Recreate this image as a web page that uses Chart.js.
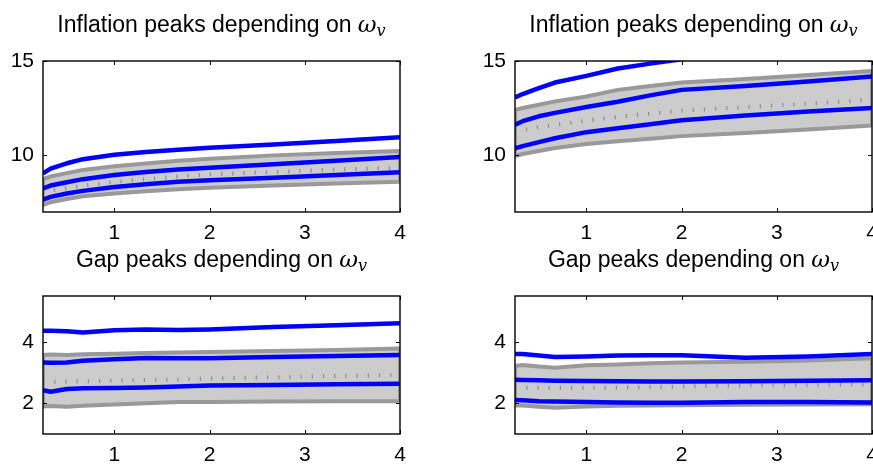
<!DOCTYPE html>
<html>
<head>
<meta charset="utf-8">
<script src="https://cdn.jsdelivr.net/npm/chart.js@4"></script>
<style>
  html, body { margin:0; padding:0; background:#fff; width:873px; height:465px; overflow:hidden; }
  canvas { position:absolute; }
</style>
</head>
<body>
<canvas id="c1" width="440" height="240" style="left:0px;top:0px;"></canvas>
<canvas id="c2" width="440" height="240" style="left:472px;top:0px;"></canvas>
<canvas id="c3" width="440" height="225" style="left:0px;top:240px;"></canvas>
<canvas id="c4" width="440" height="225" style="left:472px;top:240px;"></canvas>
<script>
// ---------- data ----------
const xVals = [0.25, 0.33, 0.5, 0.67, 1, 1.33, 1.67, 2, 2.67, 3.33, 4];
const xTicks = [1, 2, 3, 4];
const yTicksInfl = [10, 15];
const yTicksGap = [2, 4];
const titleInfl = "Inflation peaks depending on ";
const titleGap = "Gap peaks depending on ";
const titleSym = "ω";
const titleSub = "v";

// top-left
const inflA_blueHigh = [9.05, 9.3, 9.58, 9.8, 10.03, 10.18, 10.3, 10.4, 10.58, 10.76, 10.96];
const inflA_blueMid  = [8.25, 8.4, 8.58, 8.74, 8.96, 9.12, 9.25, 9.35, 9.53, 9.72, 9.91];
const inflA_blueLow  = [7.65, 7.8, 7.98, 8.12, 8.33, 8.47, 8.6, 8.68, 8.82, 8.96, 9.1];
const inflA_bandHigh = [8.74, 8.88, 9.06, 9.23, 9.42, 9.57, 9.71, 9.82, 10.0, 10.12, 10.23];
const inflA_bandLow  = [7.37, 7.52, 7.69, 7.83, 7.98, 8.1, 8.21, 8.28, 8.4, 8.51, 8.6];
const inflA_median   = [8.03, 8.14, 8.28, 8.39, 8.6, 8.74, 8.88, 9.0, 9.12, 9.25, 9.35];
// top-right
const inflB_blueHigh = [13.07, 13.25, 13.56, 13.86, 14.21, 14.6, 14.86, 15.09, 15.45, 15.8, 16.1];
const inflB_blueMid  = [11.63, 11.81, 12.07, 12.25, 12.56, 12.84, 13.18, 13.47, 13.68, 13.91, 14.18];
const inflB_blueLow  = [10.37, 10.49, 10.7, 10.91, 11.23, 11.44, 11.65, 11.86, 12.11, 12.33, 12.51];
const inflB_bandHigh = [12.42, 12.51, 12.68, 12.86, 13.12, 13.47, 13.68, 13.86, 14.05, 14.26, 14.47];
const inflB_bandLow  = [9.96, 10.07, 10.23, 10.39, 10.6, 10.75, 10.88, 11.02, 11.19, 11.37, 11.58];
const inflB_median   = [11.23, 11.33, 11.51, 11.61, 11.84, 12.04, 12.21, 12.37, 12.56, 12.74, 12.95];
// bottom-left
const gapA_blueHigh = [4.37, 4.37, 4.35, 4.31, 4.38, 4.41, 4.39, 4.41, 4.49, 4.55, 4.61];
const gapA_blueMid  = [3.33, 3.32, 3.33, 3.39, 3.44, 3.48, 3.47, 3.47, 3.51, 3.54, 3.58];
const gapA_blueLow  = [2.43, 2.38, 2.47, 2.49, 2.50, 2.52, 2.55, 2.58, 2.60, 2.62, 2.64];
const gapA_bandHigh = [3.58, 3.59, 3.58, 3.60, 3.62, 3.64, 3.66, 3.67, 3.71, 3.74, 3.79];
const gapA_bandLow  = [1.90, 1.91, 1.89, 1.92, 1.96, 2.00, 2.04, 2.04, 2.06, 2.07, 2.07];
const gapA_median   = [2.70, 2.70, 2.71, 2.72, 2.74, 2.76, 2.78, 2.81, 2.85, 2.89, 2.93];
// bottom-right
const gapB_blueHigh = [3.61, 3.61, 3.56, 3.51, 3.53, 3.56, 3.57, 3.57, 3.49, 3.53, 3.61];
const gapB_blueMid  = [2.77, 2.76, 2.75, 2.74, 2.73, 2.72, 2.71, 2.71, 2.72, 2.74, 2.75];
const gapB_blueLow  = [2.11, 2.10, 2.07, 2.06, 2.04, 2.03, 2.02, 2.02, 2.04, 2.04, 2.03];
const gapB_bandHigh = [3.22, 3.25, 3.20, 3.16, 3.24, 3.27, 3.31, 3.33, 3.36, 3.40, 3.47];
const gapB_bandLow  = [1.93, 1.93, 1.89, 1.86, 1.90, 1.92, 1.93, 1.94, 1.95, 1.96, 1.97];
const gapB_median   = [2.51, 2.51, 2.51, 2.51, 2.51, 2.52, 2.53, 2.55, 2.58, 2.60, 2.62];

// ---------- style ----------
const FONT = '"Liberation Sans", Arial, sans-serif';
const FS = 21;
const TFS = 23;
const BLUE = '#0000ff';
const BAND_EDGE = '#999999';
const BAND_FILL = '#cccccc';
const MEDIAN = '#8c8c8c';

function pts(ys) { return xVals.map((x, i) => ({x: x, y: ys[i]})); }
function bandPts(hi, lo) {
  const up = xVals.map((x, i) => ({x: x, y: hi[i]}));
  const dn = xVals.map((x, i) => ({x: x, y: lo[i]})).reverse();
  return up.concat(dn, [{x: xVals[0], y: hi[0]}]);
}

const mathTitle = {
  id: 'mathTitle',
  afterDraw(chart, args, opts) {
    const ctx = chart.ctx, a = chart.chartArea;
    const cx = (a.left + a.right) / 2;
    ctx.save();
    ctx.fillStyle = '#000';
    ctx.textBaseline = 'alphabetic';
    ctx.textAlign = 'left';
    const f1 = TFS + 'px ' + FONT;
    const f2 = 'italic ' + TFS + 'px "DejaVu Serif", "Liberation Serif", serif';
    const f3 = 'italic ' + Math.round(TFS * 0.7) + 'px "DejaVu Serif", "Liberation Serif", serif';
    ctx.font = f1; const w1 = ctx.measureText(opts.text).width;
    ctx.font = f2; const w2 = ctx.measureText(titleSym).width;
    ctx.font = f3; const w3 = ctx.measureText(titleSub).width;
    let x = cx - (w1 + w2 + w3) / 2;
    const y = opts.y;
    ctx.font = f1; ctx.fillText(opts.text, x, y); x += w1;
    ctx.font = f2; ctx.fillText(titleSym, x, y); x += w2;
    ctx.font = f3; ctx.fillText(titleSub, x, y + 4);
    ctx.restore();
  }
};

const boxTicks = {
  id: 'boxTicks',
  afterDraw(chart) {
    const ctx = chart.ctx, a = chart.chartArea;
    const xs = chart.scales.x, ys = chart.scales.y;
    const L = 4;
    ctx.save();
    ctx.strokeStyle = '#000';
    ctx.lineWidth = 1;
    ctx.beginPath();
    xs.ticks.forEach(t => {
      const px = Math.round(xs.getPixelForValue(t.value)) + 0.5;
      ctx.moveTo(px, a.bottom); ctx.lineTo(px, a.bottom - L);
      ctx.moveTo(px, a.top); ctx.lineTo(px, a.top + L);
    });
    ys.ticks.forEach(t => {
      const py = Math.round(ys.getPixelForValue(t.value)) + 0.5;
      ctx.moveTo(a.left, py); ctx.lineTo(a.left + L, py);
      ctx.moveTo(a.right, py); ctx.lineTo(a.right - L, py);
    });
    ctx.stroke();
    ctx.lineWidth = 1.4;
    ctx.strokeRect(a.left, a.top, a.right - a.left, a.bottom - a.top);
    ctx.restore();
  }
};

function makeChart(id, d, yMin, yMax, yTicks, title, padTop, titleY, xH) {
  const lineDs = (ys) => ({
    data: pts(ys), showLine: true, borderColor: BLUE, borderWidth: 4.5,
    pointRadius: 0, fill: false, clip: 0, order: 1, tension: 0,
    borderJoinStyle: 'round', borderCapStyle: 'butt'
  });
  new Chart(document.getElementById(id), {
    type: 'scatter',
    data: {
      datasets: [
        { data: bandPts(d.hi, d.lo), showLine: true, borderColor: BAND_EDGE, borderWidth: 4,
          backgroundColor: BAND_FILL, fill: 'shape', pointRadius: 0, clip: 0, order: 3, tension: 0,
          borderJoinStyle: 'miter' },
        { data: pts(d.med), showLine: true, borderColor: MEDIAN, borderWidth: 4,
          borderDash: [1.2, 10], borderCapStyle: 'butt', pointRadius: 0, fill: false, clip: 0, order: 2 },
        lineDs(d.bh), lineDs(d.bm), lineDs(d.bl)
      ]
    },
    options: {
      responsive: false,
      animation: false,
      layout: { padding: { top: padTop, right: 40, left: 0, bottom: 0 } },
      plugins: {
        legend: { display: false },
        tooltip: { enabled: false },
        title: { display: false },
        mathTitle: { text: title, y: titleY }
      },
      scales: {
        x: {
          type: 'linear', min: 0.25, max: 4,
          afterBuildTicks: s => { s.ticks = xTicks.map(v => ({ value: v })); },
          afterFit: s => { s.height = xH; },
          grid: { display: false, drawTicks: false },
          border: { display: false },
          ticks: { color: '#000', font: { family: FONT, size: FS }, padding: 9, maxRotation: 0,
                    callback: v => String(v) }
        },
        y: {
          type: 'linear', min: yMin, max: yMax,
          afterBuildTicks: s => { s.ticks = yTicks.map(v => ({ value: v })); },
          afterFit: s => { s.width = 43; },
          grid: { display: false, drawTicks: false },
          border: { display: false },
          ticks: { color: '#000', font: { family: FONT, size: FS }, padding: 9,
                    callback: v => String(v) }
        }
      }
    },
    plugins: [mathTitle, boxTicks]
  });
}

makeChart('c1', {hi: inflA_bandHigh, lo: inflA_bandLow, med: inflA_median,
  bh: inflA_blueHigh, bm: inflA_blueMid, bl: inflA_blueLow}, 7, 15, yTicksInfl, titleInfl, 61, 32, 28);
makeChart('c2', {hi: inflB_bandHigh, lo: inflB_bandLow, med: inflB_median,
  bh: inflB_blueHigh, bm: inflB_blueMid, bl: inflB_blueLow}, 7, 15, yTicksInfl, titleInfl, 61, 32, 28);
makeChart('c3', {hi: gapA_bandHigh, lo: gapA_bandLow, med: gapA_median,
  bh: gapA_blueHigh, bm: gapA_blueMid, bl: gapA_blueLow}, 1, 5.5, yTicksGap, titleGap, 56, 27, 31);
makeChart('c4', {hi: gapB_bandHigh, lo: gapB_bandLow, med: gapB_median,
  bh: gapB_blueHigh, bm: gapB_blueMid, bl: gapB_blueLow}, 1, 5.5, yTicksGap, titleGap, 56, 27, 31);
</script>
</body>
</html>
